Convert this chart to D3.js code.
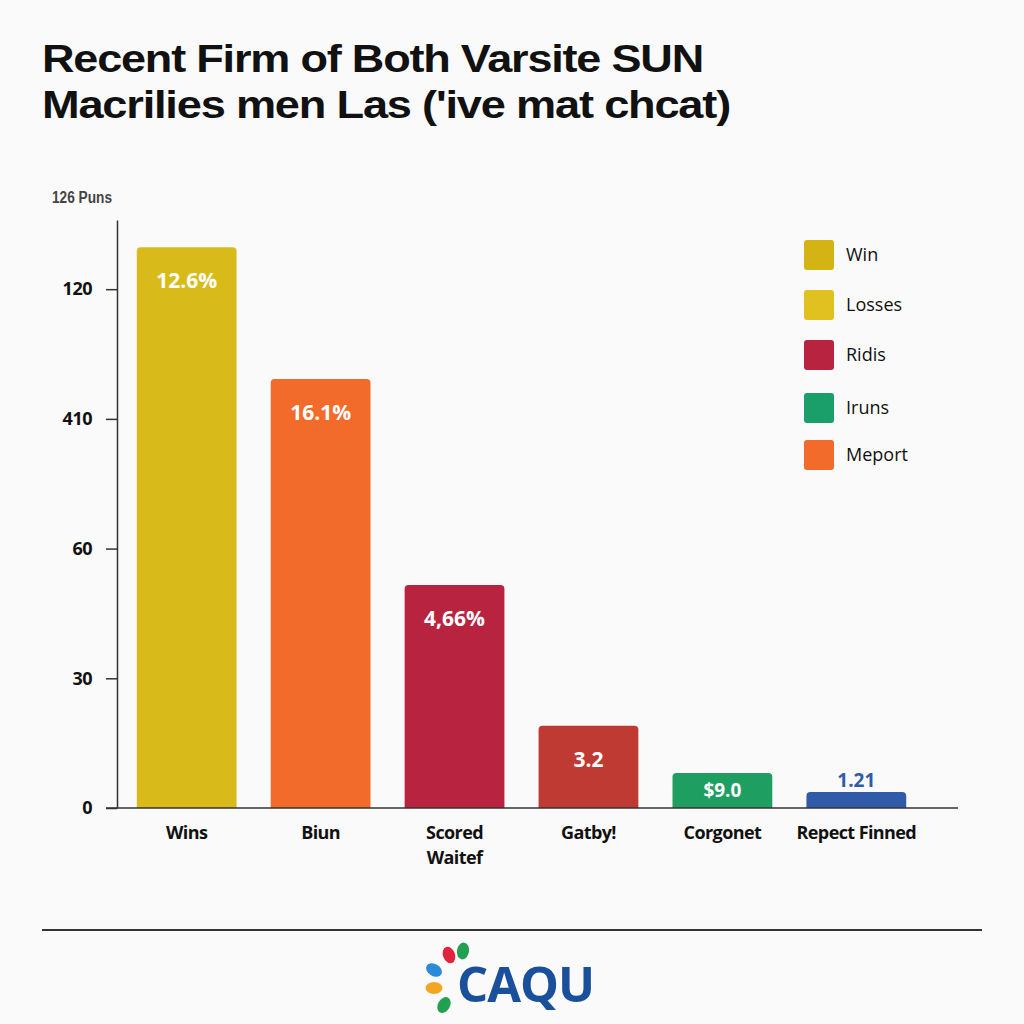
<!DOCTYPE html>
<html>
<head>
<meta charset="utf-8">
<script src="https://cdn.jsdelivr.net/npm/d3@7"></script>
<style>
  html, body { margin: 0; padding: 0; background: #fafafa; }
  svg { display: block; }
</style>
</head>
<body>
<div id="chart"></div>
<script>
// chart data
const categories = ["Wins", "Biun", "Scored\nWaitef", "Gatby!", "Corgonet", "Repect Finned"];
const values = [129.7, 99.2, 51.6, 19.0, 8.1, 3.7];
const valueLabels = ["12.6%", "16.1%", "4,66%", "3.2", "$9.0", "1.21"];
const barColors = ["#d8bb1a", "#f26b2b", "#b8233f", "#bf3a33", "#1f9e62", "#2f5ba8"];
const tickValues = [0, 30, 60, 90, 120];
const tickLabels = ["0", "30", "60", "410", "120"];
const legendNames = ["Win", "Losses", "Ridis", "Iruns", "Meport"];
const legendColors = ["#d4b414", "#e0c11f", "#b8233f", "#1a9e6a", "#f26b2b"];

const width = 1024, height = 1024;
const svg = d3.select("#chart").append("svg")
  .attr("width", width)
  .attr("height", height)
  .style("background", "#fafafa");

// title
const titleLines = [
  ["Recent Firm of Both Varsite SUN", 72, 661],
  ["Macrilies men Las ('ive mat chcat)", 118, 688]
];
titleLines.forEach(([t, y, w]) => {
  svg.append("text")
    .attr("x", 42).attr("y", y)
    .attr("textLength", w)
    .attr("lengthAdjust", "spacingAndGlyphs")
    .style("font-family", "'Liberation Sans', sans-serif")
    .style("font-weight", "bold")
    .style("font-size", "38px")
    .style("letter-spacing", "-1px")
    .style("fill", "#111")
    .text(t);
});

// scales
const x = d3.scaleBand()
  .domain(categories)
  .range([110, 933])
  .paddingInner(0.255)
  .paddingOuter(0.2);

const y = d3.scaleLinear()
  .domain([0, 136])
  .range([808, 220]);

// y axis
const yAxis = svg.append("g")
  .attr("transform", "translate(117,0)")
  .call(d3.axisLeft(y).tickValues(tickValues)
    .tickFormat((d, i) => tickLabels[i])
    .tickSize(11).tickSizeOuter(0).tickPadding(14));
yAxis.select(".domain").attr("stroke", "#333").attr("stroke-width", 1.5);
yAxis.selectAll(".tick line").attr("stroke", "#333").attr("stroke-width", 1.5);
yAxis.selectAll(".tick text")
  .style("font-family", "'Open Sans', sans-serif")
  .style("font-weight", "bold")
  .style("font-size", "18px")
  .style("letter-spacing", "-0.5px")
  .style("fill", "#111");

svg.append("text")
  .attr("x", 52).attr("y", 203)
  .attr("textLength", 60)
  .attr("lengthAdjust", "spacingAndGlyphs")
  .style("font-family", "'Liberation Sans', sans-serif")
  .style("font-weight", "bold")
  .style("font-size", "16px")
  .style("fill", "#444")
  .text("126 Puns");

// bars with rounded tops
const r = 4;
function topRounded(x0, y0, w, h) {
  return `M${x0},${y0 + h} V${y0 + r} Q${x0},${y0} ${x0 + r},${y0} H${x0 + w - r} Q${x0 + w},${y0} ${x0 + w},${y0 + r} V${y0 + h} Z`;
}
svg.append("g").selectAll("path")
  .data(values)
  .join("path")
  .attr("d", (d, i) => topRounded(x(categories[i]), y(d), x.bandwidth(), y(0) - y(d)))
  .attr("fill", (d, i) => barColors[i]);

// x baseline
svg.append("line")
  .attr("x1", 106).attr("x2", 958)
  .attr("y1", y(0)).attr("y2", y(0))
  .attr("stroke", "#333").attr("stroke-width", 1.5);

// value labels
svg.append("g").selectAll("text")
  .data(values)
  .join("text")
  .attr("x", (d, i) => x(categories[i]) + x.bandwidth() / 2)
  .attr("y", (d, i) => {
    const h = y(0) - y(d);
    if (h < 25) return y(d) - 5;
    if (h < 50) return y(d) + h / 2 + 7;
    return y(d) + 41;
  })
  .attr("text-anchor", "middle")
  .style("font-family", "'Open Sans', sans-serif")
  .style("font-weight", "bold")
  .style("font-size", (d, i) => (y(0) - y(d) < 50 ? "19px" : "21px"))
  .style("fill", (d, i) => (y(0) - y(d) < 25 ? barColors[i] : "#fff"))
  .text((d, i) => valueLabels[i]);

// category labels
const xl = svg.append("g").selectAll("text")
  .data(categories)
  .join("text")
  .attr("x", d => x(d) + x.bandwidth() / 2)
  .attr("y", 839)
  .attr("text-anchor", "middle")
  .style("font-family", "'Open Sans', sans-serif")
  .style("font-weight", "bold")
  .style("font-size", "18px")
  .style("letter-spacing", "-0.6px")
  .style("fill", "#111");
xl.each(function (d) {
  d.split("\n").forEach((line, k) => {
    d3.select(this).append("tspan")
      .attr("x", x(d) + x.bandwidth() / 2)
      .attr("dy", k === 0 ? 0 : 25)
      .text(line);
  });
});

// legend
const legend = svg.append("g").attr("transform", "translate(804,240)");
const legendY = [0, 50, 100, 153, 200];
legendNames.forEach((name, i) => {
  legend.append("rect")
    .attr("x", 0).attr("y", legendY[i])
    .attr("width", 30).attr("height", 30)
    .attr("rx", 3)
    .attr("fill", legendColors[i]);
  legend.append("text")
    .attr("x", 42).attr("y", legendY[i] + 21)
    .style("font-family", "'Open Sans', sans-serif")
    .style("font-size", "18px")
    .style("fill", "#111")
    .text(name);
});

// footer
svg.append("line")
  .attr("x1", 42).attr("x2", 982)
  .attr("y1", 930).attr("y2", 930)
  .attr("stroke", "#333").attr("stroke-width", 2);

const logo = svg.append("g").attr("transform", "translate(440,985)");
const petals = [
  [9, -30, "#e0243f", -20],
  [23, -34, "#20a050", 10],
  [-6, -15, "#2b8bd6", -60],
  [-6, 3, "#f2a623", 90],
  [4, 20, "#20a050", 30]
];
petals.forEach(([px, py, c, a]) => {
  logo.append("ellipse")
    .attr("cx", px).attr("cy", py)
    .attr("rx", 6).attr("ry", 8.5)
    .attr("transform", `rotate(${a},${px},${py})`)
    .attr("fill", c);
});
logo.append("text")
  .attr("x", 17).attr("y", 17)
  .style("font-family", "'Open Sans', sans-serif")
  .style("font-weight", "bold")
  .style("font-size", "49px")
  .style("letter-spacing", "-1px")
  .style("fill", "#1a4f9c")
  .text("CAQU");
</script>
</body>
</html>
